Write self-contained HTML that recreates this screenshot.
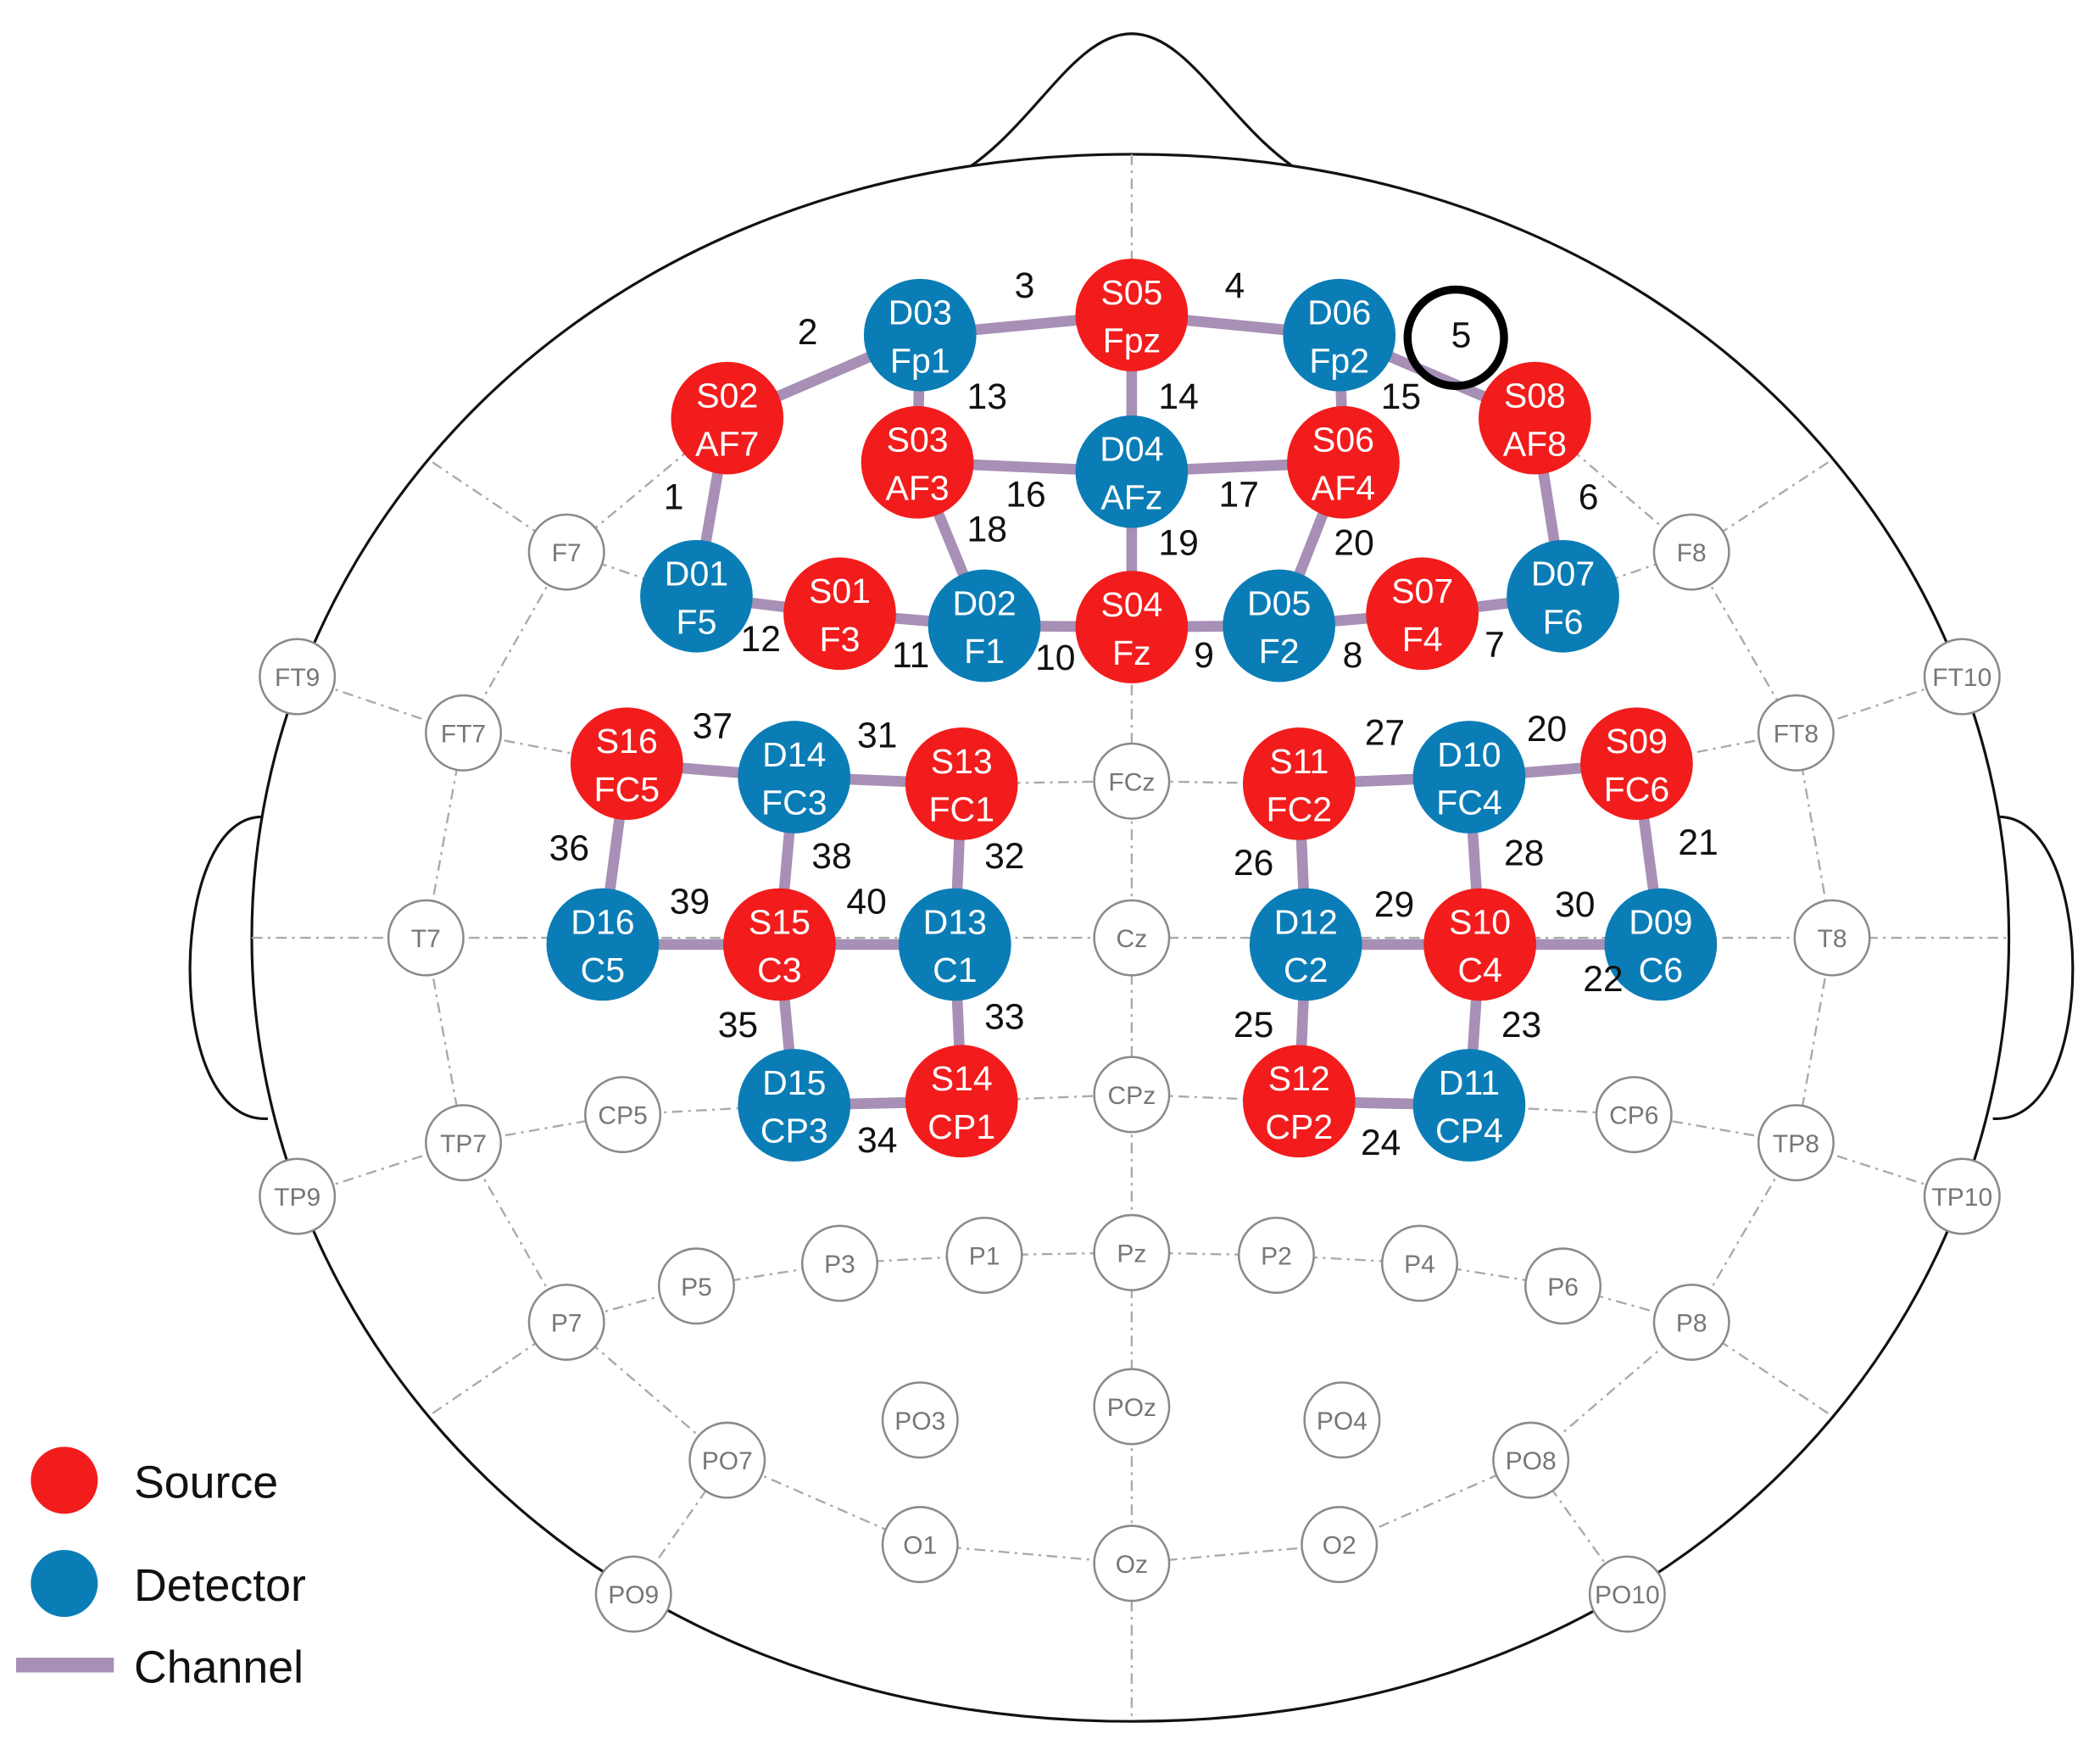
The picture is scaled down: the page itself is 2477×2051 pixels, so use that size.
<!DOCTYPE html>
<html><head><meta charset="utf-8"><style>
html,body{margin:0;padding:0;background:#fff}
svg{display:block}
.o text{fill:#fff;font-family:"Liberation Sans",sans-serif;font-size:26px;text-anchor:middle}
.e circle{fill:#fff;stroke:#8a8a8a;stroke-width:1.6}
.e text{fill:#777;font-family:"Liberation Sans",sans-serif;font-size:19px;text-anchor:middle}
.n{font-family:"Liberation Sans",sans-serif;font-size:27px;fill:#111;text-anchor:middle}
.ch line{stroke:#a78fb5;stroke-width:8}
</style></head><body>
<svg width="2477" height="2051" viewBox="0 0 1568 1298" xmlns="http://www.w3.org/2000/svg">
<rect width="1568" height="1298" fill="#fff"/>
<path d="M200 610 C125 600 120 840 200 835" fill="none" stroke="#111" stroke-width="2"/>
<path d="M1488 610 C1565 600 1570 840 1488 835" fill="none" stroke="#111" stroke-width="2"/>
<path d="M712 132 C770 100 800 25 845 25 C890 25 920 100 978 132" fill="none" stroke="#111" stroke-width="2"/>
<path d="M845 115 C1250 115 1500 400 1500 700 C1500 1000 1250 1285 845 1285 C440 1285 188 1000 188 700 C188 400 440 115 845 115 Z" fill="#fff" stroke="#111" stroke-width="2"/>
<g stroke="#aaa" stroke-width="1.5" stroke-dasharray="8 4 2 4" fill="none">
<line x1="845" y1="115" x2="845" y2="1285"/>
<line x1="188" y1="700" x2="1500" y2="700"/>
<path d="M222 505 L346 547 L468 570"/><path d="M1465 505 L1341 547 L1222 570"/>
<path d="M222 893 L346 853 L465 832 L593 825"/><path d="M1465 893 L1341 853 L1220 832 L1097 825"/>
<path d="M423 987 L520 960 L627 943 L735 937 L845 935 L953 937 L1060 943 L1167 960 L1263 987"/>
<path d="M543 1090 L687 1153 L845 1167 L1000 1153 L1143 1090"/>
<path d="M323 345 L423 412 L520 445"/><path d="M1365 345 L1263 412 L1167 445"/>
<path d="M323 1055 L423 987 L543 1090 L473 1190"/><path d="M1365 1055 L1263 987 L1143 1090 L1215 1190"/>
<path d="M423 412 L346 547 L318 700 L346 853 L423 987"/><path d="M1263 412 L1341 547 L1368 700 L1341 853 L1263 987"/>
<path d="M718 585 L845 583 L970 585"/><path d="M718 822 L845 817 L970 822"/>
<path d="M543 312 L423 412"/><path d="M1146 312 L1263 412"/>
</g>
<g class="e">
<g transform="translate(423,412)"><circle r="28"/><text y="7">F7</text></g>
<g transform="translate(1263,412)"><circle r="28"/><text y="7">F8</text></g>
<g transform="translate(222,505)"><circle r="28"/><text y="7">FT9</text></g>
<g transform="translate(1465,505)"><circle r="28"/><text y="7">FT10</text></g>
<g transform="translate(346,547)"><circle r="28"/><text y="7">FT7</text></g>
<g transform="translate(1341,547)"><circle r="28"/><text y="7">FT8</text></g>
<g transform="translate(845,583)"><circle r="28"/><text y="7">FCz</text></g>
<g transform="translate(318,700)"><circle r="28"/><text y="7">T7</text></g>
<g transform="translate(1368,700)"><circle r="28"/><text y="7">T8</text></g>
<g transform="translate(845,700)"><circle r="28"/><text y="7">Cz</text></g>
<g transform="translate(465,832)"><circle r="28"/><text y="7">CP5</text></g>
<g transform="translate(1220,832)"><circle r="28"/><text y="7">CP6</text></g>
<g transform="translate(845,817)"><circle r="28"/><text y="7">CPz</text></g>
<g transform="translate(346,853)"><circle r="28"/><text y="7">TP7</text></g>
<g transform="translate(1341,853)"><circle r="28"/><text y="7">TP8</text></g>
<g transform="translate(222,893)"><circle r="28"/><text y="7">TP9</text></g>
<g transform="translate(1465,893)"><circle r="28"/><text y="7">TP10</text></g>
<g transform="translate(423,987)"><circle r="28"/><text y="7">P7</text></g>
<g transform="translate(520,960)"><circle r="28"/><text y="7">P5</text></g>
<g transform="translate(627,943)"><circle r="28"/><text y="7">P3</text></g>
<g transform="translate(735,937)"><circle r="28"/><text y="7">P1</text></g>
<g transform="translate(845,935)"><circle r="28"/><text y="7">Pz</text></g>
<g transform="translate(953,937)"><circle r="28"/><text y="7">P2</text></g>
<g transform="translate(1060,943)"><circle r="28"/><text y="7">P4</text></g>
<g transform="translate(1167,960)"><circle r="28"/><text y="7">P6</text></g>
<g transform="translate(1263,987)"><circle r="28"/><text y="7">P8</text></g>
<g transform="translate(687,1060)"><circle r="28"/><text y="7">PO3</text></g>
<g transform="translate(845,1050)"><circle r="28"/><text y="7">POz</text></g>
<g transform="translate(1002,1060)"><circle r="28"/><text y="7">PO4</text></g>
<g transform="translate(543,1090)"><circle r="28"/><text y="7">PO7</text></g>
<g transform="translate(1143,1090)"><circle r="28"/><text y="7">PO8</text></g>
<g transform="translate(687,1153)"><circle r="28"/><text y="7">O1</text></g>
<g transform="translate(845,1167)"><circle r="28"/><text y="7">Oz</text></g>
<g transform="translate(1000,1153)"><circle r="28"/><text y="7">O2</text></g>
<g transform="translate(473,1190)"><circle r="28"/><text y="7">PO9</text></g>
<g transform="translate(1215,1190)"><circle r="28"/><text y="7">PO10</text></g>
</g>
<g class="ch">
<line x1="543" y1="312" x2="520" y2="445"/><line x1="543" y1="312" x2="687" y2="250"/>
<line x1="687" y1="250" x2="845" y2="235"/><line x1="845" y1="235" x2="1000" y2="250"/>
<line x1="1000" y1="250" x2="1146" y2="312"/><line x1="1146" y1="312" x2="1167" y2="445"/>
<line x1="1167" y1="445" x2="1062" y2="458"/><line x1="1062" y1="458" x2="955" y2="467"/>
<line x1="955" y1="467" x2="845" y2="468"/><line x1="845" y1="468" x2="735" y2="467"/>
<line x1="735" y1="467" x2="627" y2="458"/><line x1="627" y1="458" x2="520" y2="445"/>
<line x1="687" y1="250" x2="685" y2="345"/><line x1="845" y1="235" x2="845" y2="352"/>
<line x1="1000" y1="250" x2="1003" y2="345"/><line x1="685" y1="345" x2="845" y2="352"/>
<line x1="845" y1="352" x2="1003" y2="345"/><line x1="685" y1="345" x2="735" y2="467"/>
<line x1="845" y1="352" x2="845" y2="468"/><line x1="1003" y1="345" x2="955" y2="467"/>
<line x1="468" y1="570" x2="593" y2="580"/><line x1="593" y1="580" x2="718" y2="585"/>
<line x1="468" y1="570" x2="450" y2="705"/><line x1="593" y1="580" x2="582" y2="705"/>
<line x1="718" y1="585" x2="713" y2="705"/><line x1="450" y1="705" x2="713" y2="705"/>
<line x1="582" y1="705" x2="593" y2="825"/><line x1="713" y1="705" x2="718" y2="822"/>
<line x1="593" y1="825" x2="718" y2="822"/>
<line x1="970" y1="585" x2="1097" y2="580"/><line x1="1097" y1="580" x2="1222" y2="570"/>
<line x1="970" y1="585" x2="975" y2="705"/><line x1="1097" y1="580" x2="1105" y2="705"/>
<line x1="1222" y1="570" x2="1240" y2="705"/><line x1="975" y1="705" x2="1240" y2="705"/>
<line x1="975" y1="705" x2="970" y2="822"/><line x1="1105" y1="705" x2="1097" y2="825"/>
<line x1="970" y1="822" x2="1097" y2="825"/>
</g>
<g class="o">
<g transform="translate(687,250)"><circle r="42" fill="#0b7db6"/><text y="-8">D03</text><text y="28">Fp1</text></g>
<g transform="translate(845,235)"><circle r="42" fill="#f21c1c"/><text y="-8">S05</text><text y="28">Fpz</text></g>
<g transform="translate(1000,250)"><circle r="42" fill="#0b7db6"/><text y="-8">D06</text><text y="28">Fp2</text></g>
<g transform="translate(543,312)"><circle r="42" fill="#f21c1c"/><text y="-8">S02</text><text y="28">AF7</text></g>
<g transform="translate(685,345)"><circle r="42" fill="#f21c1c"/><text y="-8">S03</text><text y="28">AF3</text></g>
<g transform="translate(845,352)"><circle r="42" fill="#0b7db6"/><text y="-8">D04</text><text y="28">AFz</text></g>
<g transform="translate(1003,345)"><circle r="42" fill="#f21c1c"/><text y="-8">S06</text><text y="28">AF4</text></g>
<g transform="translate(1146,312)"><circle r="42" fill="#f21c1c"/><text y="-8">S08</text><text y="28">AF8</text></g>
<g transform="translate(520,445)"><circle r="42" fill="#0b7db6"/><text y="-8">D01</text><text y="28">F5</text></g>
<g transform="translate(627,458)"><circle r="42" fill="#f21c1c"/><text y="-8">S01</text><text y="28">F3</text></g>
<g transform="translate(735,467)"><circle r="42" fill="#0b7db6"/><text y="-8">D02</text><text y="28">F1</text></g>
<g transform="translate(845,468)"><circle r="42" fill="#f21c1c"/><text y="-8">S04</text><text y="28">Fz</text></g>
<g transform="translate(955,467)"><circle r="42" fill="#0b7db6"/><text y="-8">D05</text><text y="28">F2</text></g>
<g transform="translate(1062,458)"><circle r="42" fill="#f21c1c"/><text y="-8">S07</text><text y="28">F4</text></g>
<g transform="translate(1167,445)"><circle r="42" fill="#0b7db6"/><text y="-8">D07</text><text y="28">F6</text></g>
<g transform="translate(468,570)"><circle r="42" fill="#f21c1c"/><text y="-8">S16</text><text y="28">FC5</text></g>
<g transform="translate(593,580)"><circle r="42" fill="#0b7db6"/><text y="-8">D14</text><text y="28">FC3</text></g>
<g transform="translate(718,585)"><circle r="42" fill="#f21c1c"/><text y="-8">S13</text><text y="28">FC1</text></g>
<g transform="translate(970,585)"><circle r="42" fill="#f21c1c"/><text y="-8">S11</text><text y="28">FC2</text></g>
<g transform="translate(1097,580)"><circle r="42" fill="#0b7db6"/><text y="-8">D10</text><text y="28">FC4</text></g>
<g transform="translate(1222,570)"><circle r="42" fill="#f21c1c"/><text y="-8">S09</text><text y="28">FC6</text></g>
<g transform="translate(450,705)"><circle r="42" fill="#0b7db6"/><text y="-8">D16</text><text y="28">C5</text></g>
<g transform="translate(582,705)"><circle r="42" fill="#f21c1c"/><text y="-8">S15</text><text y="28">C3</text></g>
<g transform="translate(713,705)"><circle r="42" fill="#0b7db6"/><text y="-8">D13</text><text y="28">C1</text></g>
<g transform="translate(975,705)"><circle r="42" fill="#0b7db6"/><text y="-8">D12</text><text y="28">C2</text></g>
<g transform="translate(1105,705)"><circle r="42" fill="#f21c1c"/><text y="-8">S10</text><text y="28">C4</text></g>
<g transform="translate(1240,705)"><circle r="42" fill="#0b7db6"/><text y="-8">D09</text><text y="28">C6</text></g>
<g transform="translate(593,825)"><circle r="42" fill="#0b7db6"/><text y="-8">D15</text><text y="28">CP3</text></g>
<g transform="translate(718,822)"><circle r="42" fill="#f21c1c"/><text y="-8">S14</text><text y="28">CP1</text></g>
<g transform="translate(970,822)"><circle r="42" fill="#f21c1c"/><text y="-8">S12</text><text y="28">CP2</text></g>
<g transform="translate(1097,825)"><circle r="42" fill="#0b7db6"/><text y="-8">D11</text><text y="28">CP4</text></g>
</g>
<g class="n">
<text x="503" y="380">1</text><text x="603" y="257">2</text><text x="765" y="222">3</text><text x="922" y="222">4</text>
<text x="1091" y="259">5</text><text x="1186" y="380">6</text><text x="1116" y="490">7</text><text x="1010" y="498">8</text>
<text x="899" y="498">9</text><text x="788" y="500">10</text><text x="680" y="498">11</text><text x="568" y="486">12</text>
<text x="737" y="305">13</text><text x="880" y="305">14</text><text x="1046" y="305">15</text><text x="766" y="378">16</text>
<text x="925" y="378">17</text><text x="737" y="404">18</text><text x="880" y="414">19</text><text x="1011" y="414">20</text>
<text x="532" y="551">37</text><text x="655" y="558">31</text><text x="425" y="642">36</text><text x="621" y="648">38</text>
<text x="750" y="648">32</text><text x="515" y="682">39</text><text x="647" y="682">40</text><text x="551" y="774">35</text>
<text x="750" y="768">33</text><text x="655" y="860">34</text>
<text x="1034" y="556">27</text><text x="1155" y="553">20</text><text x="936" y="653">26</text><text x="1138" y="646">28</text>
<text x="1268" y="638">21</text><text x="1041" y="684">29</text><text x="1176" y="684">30</text><text x="1197" y="740">22</text>
<text x="936" y="774">25</text><text x="1136" y="774">23</text><text x="1031" y="862">24</text>
</g>
<circle cx="1087" cy="252" r="36" fill="none" stroke="#000" stroke-width="6"/>
<circle cx="48" cy="1105" r="25" fill="#f21c1c"/>
<circle cx="48" cy="1182" r="25" fill="#0b7db6"/>
<line x1="12" y1="1243" x2="85" y2="1243" stroke="#a78fb5" stroke-width="11"/>
<g font-family="Liberation Sans,sans-serif" font-size="34" fill="#111">
<text x="100" y="1118">Source</text><text x="100" y="1195">Detector</text><text x="100" y="1256">Channel</text>
</g>
</svg>
</body></html>
